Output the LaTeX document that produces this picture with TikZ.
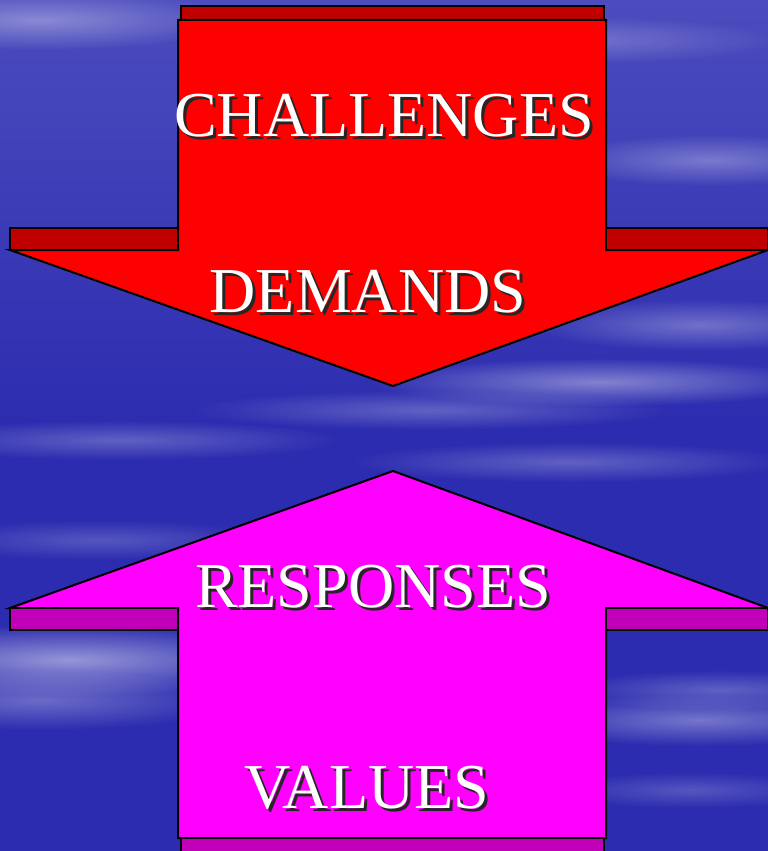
\documentclass[tikz,border=0pt]{standalone}
\usepackage{fontspec}
\setmainfont{Liberation Serif}
\usetikzlibrary{fadings}

\definecolor{sky}{RGB}{44,44,176}
\definecolor{skytop}{RGB}{76,76,190}
\definecolor{arrowred}{RGB}{255,0,0}
\definecolor{edgered}{RGB}{192,0,0}
\definecolor{arrowpink}{RGB}{255,0,255}
\definecolor{edgepink}{RGB}{192,0,184}

\tikzfading[name=softedge, inner color=transparent!0, outer color=transparent!100]

\tikzset{
  face/.style={draw=black, line width=2pt, line join=miter},
  streak/.style={fill=white, fill opacity=#1, draw=none, path fading=softedge},
  streak/.default=0.3,
  word/.style={text=white, font=\fontsize{64}{64}\selectfont, anchor=base, inner sep=0pt},
  wordshadow/.style={word, text=black!85}
}

% white caption with a dark drop shadow
\newcommand{\arrowword}[3]{%
  \node[wordshadow] (#1s) at ([xshift=3pt,yshift=-3pt]#2) {#3};
  \node[word] (#1) at (#2) {#3};}

\begin{document}
\begin{tikzpicture}[x=1pt, y=-1pt]
  % sky
  \shade[top color=skytop, bottom color=sky, middle color=sky] (0,0) rectangle (768,851);
  \useasboundingbox (0,0) rectangle (768,851);
  \fill[streak=0.35] (40,20) ellipse (200 and 30);
  \fill[streak=0.25] (560,40) ellipse (220 and 24);
  \fill[streak=0.3] (710,160) ellipse (160 and 26);
  \fill[streak=0.3] (700,325) ellipse (170 and 26);
  \fill[streak=0.4] (600,382) ellipse (230 and 24);
  \fill[streak=0.25] (430,410) ellipse (240 and 20);
  \fill[streak=0.25] (120,440) ellipse (220 and 20);
  \fill[streak=0.25] (570,462) ellipse (220 and 20);
  \fill[streak=0.2] (100,540) ellipse (180 and 20);
  \fill[streak=0.5] (70,660) ellipse (240 and 36);
  \fill[streak=0.3] (40,700) ellipse (200 and 30);
  \fill[streak=0.35] (700,720) ellipse (190 and 26);
  \fill[streak=0.25] (720,690) ellipse (160 and 20);
  \fill[streak=0.2] (690,790) ellipse (140 and 18);

  % down arrow
  \draw[face, fill=edgered] (181,6) rectangle (604,20);
  \draw[face, fill=arrowred] (178,20) -- (606,20) -- (606,250) -- (768,250)
    -- (393,386) -- (10,250) -- (178,250) -- cycle;
  \draw[face, fill=edgered] (10,228) rectangle (178,250);
  \draw[face, fill=edgered] (606,228) rectangle (768,250);

  % up arrow
  \draw[face, fill=arrowpink] (393,471) -- (768,608) -- (606,608) -- (606,838)
    -- (178,838) -- (178,608) -- (10,608) -- cycle;
  \draw[face, fill=edgepink] (10,608) rectangle (178,630);
  \draw[face, fill=edgepink] (606,608) rectangle (768,630);
  \draw[face, fill=edgepink] (181,838) rectangle (604,852);

  \arrowword{challenges}{384,136}{CHALLENGES}
  \arrowword{demands}{368,312}{DEMANDS}
  \arrowword{responses}{373,607}{RESPONSES}
  \arrowword{values}{367,808}{VALUES}
\end{tikzpicture}
\end{document}
